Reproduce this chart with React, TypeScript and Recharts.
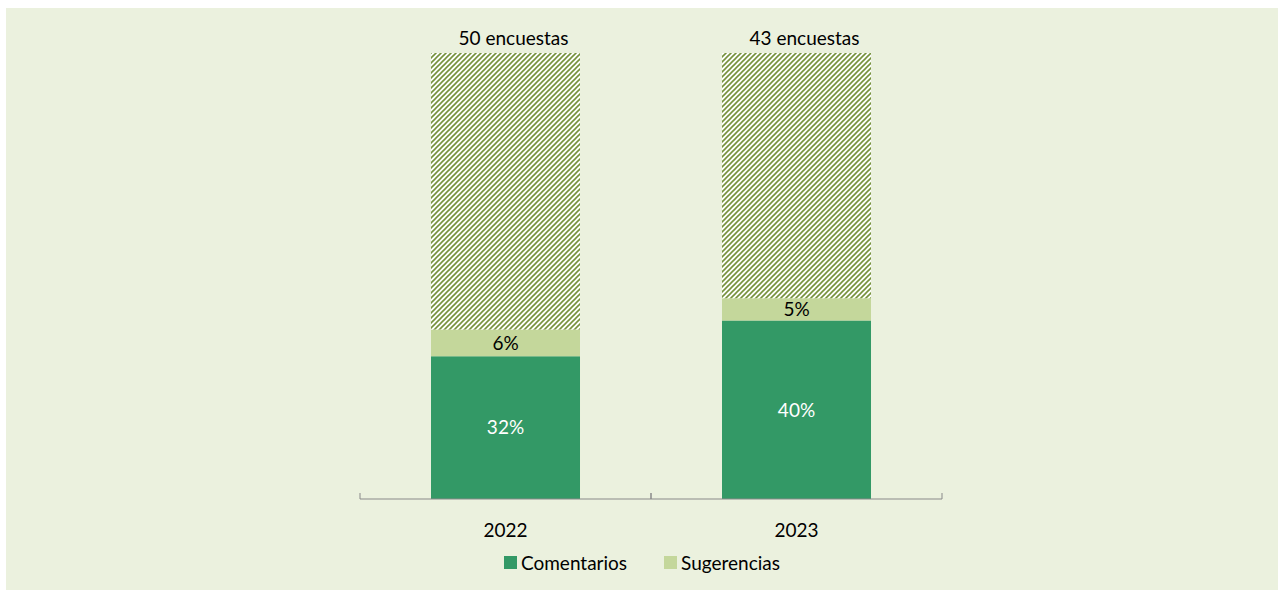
import React from "react";
import { BarChart, Bar, XAxis, YAxis, LabelList, Legend } from "recharts";

const categories = ["2022", "2023"];
const comentarios = [32, 40];
const sugerencias = [6, 5];
const resto = [62, 55];
const encuestas = [50, 43];

const data = categories.map((year, i) => ({
  year,
  comentarios: comentarios[i],
  sugerencias: sugerencias[i],
  resto: resto[i],
  encuestas: encuestas[i],
}));

const DARK = "#339966";
const LIGHT = "#C4D79B";
const HATCH = "#76923C";
const AXIS = "#898989";
const FONT = 19;

const legendItems = [
  { name: "Comentarios", color: DARK },
  { name: "Sugerencias", color: LIGHT },
];

const renderLegend = () => (
  <div style={{ textAlign: "center", fontSize: FONT, color: "#000" }}>
    {legendItems.map((it, i) => (
      <span key={it.name} style={{ display: "inline-flex", alignItems: "center", marginRight: i === 0 ? 37 : 0 }}>
        <span style={{ width: 13, height: 13, background: it.color, marginRight: 4, display: "inline-block" }} />
        {it.name}
      </span>
    ))}
  </div>
);

// year label plus the Excel-style tick marks between the categories
const YearTick = (props: any) => {
  const { x, y, payload } = props;
  const axisY = y - 25;
  const off = payload.offset || 0;
  return (
    <g>
      <line x1={x - off} x2={x - off} y1={axisY - 6} y2={axisY} stroke={AXIS} />
      <line x1={x + off} x2={x + off} y1={axisY - 6} y2={axisY} stroke={AXIS} />
      <text x={x} y={y} dy="0.71em" textAnchor="middle" fontSize={FONT} fill="#000">
        {payload.value}
      </text>
    </g>
  );
};

export default function App() {
  return (
    <div
      style={{
        position: "absolute",
        left: 6,
        top: 8,
        width: 1272,
        height: 582,
        background: "#EBF1DE",
        fontFamily: "Lato, 'Noto Sans', sans-serif",
      }}
    >
      <BarChart
        width={1272}
        height={582}
        data={data}
        margin={{ top: 45, right: 336, bottom: 51, left: 354 }}
        barCategoryGap="24.4%"
      >
        <defs>
          <pattern id="hatch" width="5" height="5" patternUnits="userSpaceOnUse">
            <rect width="5" height="5" fill="#ffffff" />
            <path d="M-1,1 l2,-2 M0,5 l5,-5 M4,6 l2,-2" stroke={HATCH} strokeWidth={1.6} />
          </pattern>
        </defs>
        <XAxis
          dataKey="year"
          height={40}
          axisLine={{ stroke: AXIS }}
          tickLine={false}
          tickSize={6}
          tickMargin={19}
          tick={<YearTick />}
        />
        <YAxis hide domain={[0, 100]} />
        <Legend
          layout="horizontal"
          verticalAlign="middle"
          align="center"
          content={renderLegend}
          wrapperStyle={{ top: 542, left: 0, width: 1272 }}
        />
        <Bar dataKey="comentarios" name="Comentarios" stackId="a" fill={DARK} isAnimationActive={false}>
          <LabelList dataKey="comentarios" position="center" fill="#fff" fontSize={FONT} formatter={(v: any) => `${v}%`} />
        </Bar>
        <Bar dataKey="sugerencias" name="Sugerencias" stackId="a" fill={LIGHT} isAnimationActive={false}>
          <LabelList dataKey="sugerencias" position="center" fill="#000" fontSize={FONT} formatter={(v: any) => `${v}%`} />
        </Bar>
        <Bar dataKey="resto" stackId="a" fill="url(#hatch)" legendType="none" isAnimationActive={false}>
          <LabelList
            dataKey="encuestas"
            position="top"
            offset={8}
            dx={8}
            fill="#000"
            fontSize={FONT}
            formatter={(v: any) => `${v} encuestas`}
          />
        </Bar>
      </BarChart>
    </div>
  );
}
